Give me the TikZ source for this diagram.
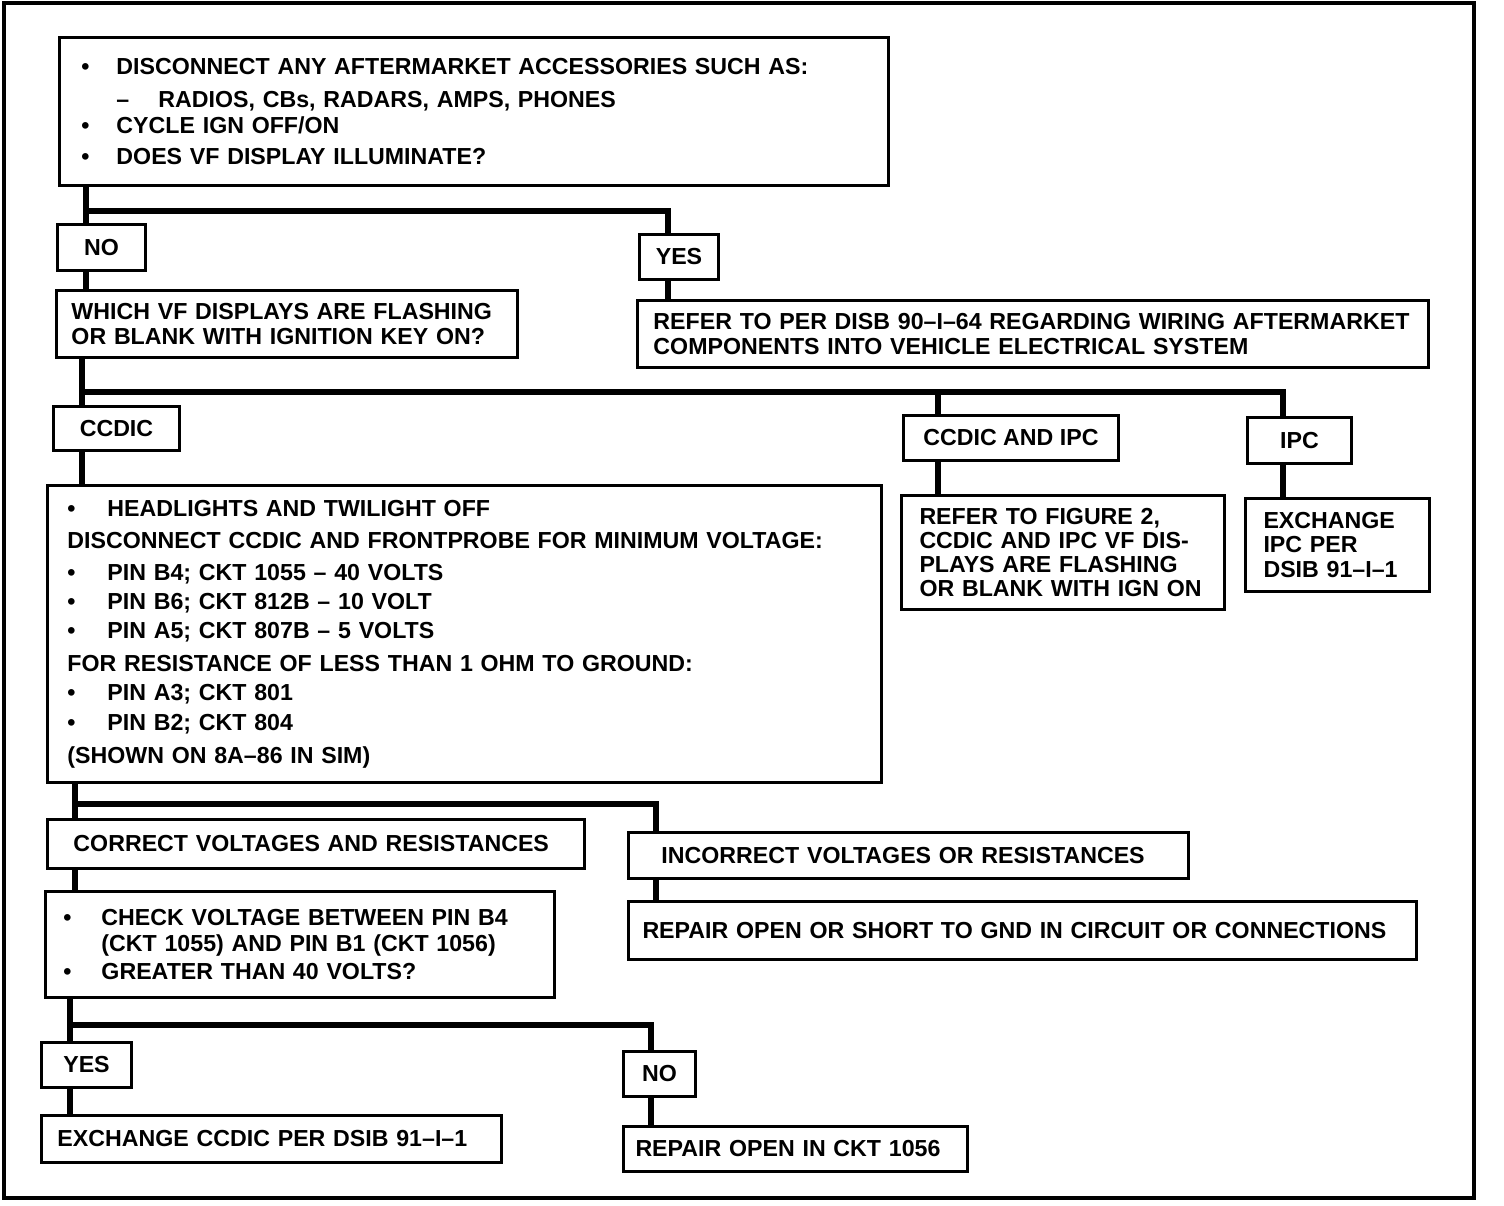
\documentclass[tikz,border=0pt]{standalone}
\usepackage{fontspec}
\setmainfont{Liberation Sans}
\usetikzlibrary{positioning}
\newcommand{\itm}[1][0.7cm]{\makebox[#1][l]{\textbullet}}

\begin{document}
\begin{tikzpicture}[x=0.02cm, y=-0.02cm,
  every node/.style={font=\fontsize{13.2}{13.7}\selectfont\bfseries},
  box/.style={draw, line width=1.7pt, anchor=north west, align=left, inner xsep=0.32cm, inner ysep=0pt},
  tag/.style={draw, line width=1.7pt, anchor=north west, inner sep=0pt},
  link/.style={line width=3pt}]
  \useasboundingbox (0,0) rectangle (1504,1206);
  \draw[line width=2.3pt] (4,3) rectangle (1474,1198);

  % first question
  \node[box, inner xsep=0.44cm, text width=15.7cm, minimum height=2.96cm] (top) at (58,36)
    {\itm DISCONNECT ANY AFTERMARKET ACCESSORIES SUCH AS:\\[5pt]
     \hspace*{0.7cm}\makebox[0.84cm][l]{--}RADIOS, CBs, RADARS, AMPS, PHONES\\[1pt]
     \itm CYCLE IGN OFF/ON\\[4pt]
     \itm DOES VF DISPLAY ILLUMINATE?};
  \node[tag, minimum width=1.76cm, minimum height=0.92cm] (no1) at (56,223) {NO};
  \node[tag, minimum width=1.58cm, minimum height=0.9cm] (yes1) at (638,233) {YES};
  \node[box, inner xsep=0.3cm, text width=8.62cm, minimum height=1.34cm] (which) at (55,289)
    {WHICH VF DISPLAYS ARE FLASHING\\OR BLANK WITH IGNITION KEY ON?};
  \node[box, text width=15.18cm, minimum height=1.34cm] (refer) at (636,299)
    {REFER TO PER DISB 90--I--64 REGARDING WIRING AFTERMARKET\\COMPONENTS INTO VEHICLE ELECTRICAL SYSTEM};

  % which display
  \node[tag, minimum width=2.52cm, minimum height=0.88cm] (ccdic) at (52,405) {CCDIC};
  \node[tag, minimum width=4.3cm, minimum height=0.9cm] (both) at (902,414) {CCDIC AND IPC};
  \node[tag, minimum width=2.08cm, minimum height=0.92cm] (ipc) at (1246,416) {IPC};
  \node[box, inner xsep=0.4cm, text width=15.88cm, minimum height=5.94cm] (probe) at (46,484)
    {\itm[0.8cm]HEADLIGHTS AND TWILIGHT OFF\\[5pt]
     DISCONNECT CCDIC AND FRONTPROBE FOR MINIMUM VOLTAGE:\\[4pt]
     \itm[0.8cm]PIN B4; CKT 1055 -- 40 VOLTS\\[3pt]
     \itm[0.8cm]PIN B6; CKT 812B -- 10 VOLT\\[3pt]
     \itm[0.8cm]PIN A5; CKT 807B -- 5 VOLTS\\[5pt]
     FOR RESISTANCE OF LESS THAN 1 OHM TO GROUND:\\[3pt]
     \itm[0.8cm]PIN A3; CKT 801\\[3pt]
     \itm[0.8cm]PIN B2; CKT 804\\[5pt]
     (SHOWN ON 8A--86 IN SIM)};
  \node[box, inner xsep=0.36cm, text width=5.74cm, minimum height=2.28cm] (fig2) at (900,494)
    {REFER TO FIGURE 2,\\CCDIC AND IPC VF DIS-\\PLAYS ARE FLASHING\\OR BLANK WITH IGN ON};
  \node[box, inner xsep=0.36cm, text width=2.96cm, minimum height=1.86cm] (exipc) at (1244,497)
    {EXCHANGE\\IPC PER\\DSIB 91--I--1};

  % probe results
  \node[box, inner xsep=0.52cm, text width=9.7cm, minimum height=0.98cm] (correct) at (46,818)
    {CORRECT VOLTAGES AND RESISTANCES};
  \node[box, inner xsep=0.66cm, text width=9.88cm, minimum height=0.92cm] (incorrect) at (627,831)
    {INCORRECT VOLTAGES OR RESISTANCES};
  \node[box, inner xsep=0.36cm, text width=9.46cm, minimum height=2.12cm] (volt) at (44,890)
    {\itm[0.76cm]CHECK VOLTAGE BETWEEN PIN B4\\[1pt]
     \hspace*{0.76cm}(CKT 1055) AND PIN B1 (CKT 1056)\\[2.5pt]
     \itm[0.76cm]GREATER THAN 40 VOLTS?};
  \node[box, inner xsep=0.28cm, text width=15.2cm, minimum height=1.16cm] (short) at (627,900)
    {REPAIR OPEN OR SHORT TO GND IN CIRCUIT OR CONNECTIONS};

  % last question
  \node[tag, minimum width=1.8cm, minimum height=0.9cm] (yes2) at (40,1041) {YES};
  \node[tag, minimum width=1.44cm, minimum height=0.9cm] (no2) at (622,1050) {NO};
  \node[box, text width=8.56cm, minimum height=0.94cm] (exccdic) at (40,1114)
    {EXCHANGE CCDIC PER DSIB 91--I--1};
  \node[box, inner xsep=0.24cm, text width=6.4cm, minimum height=0.9cm] (open) at (622,1125)
    {REPAIR OPEN IN CKT 1056};

  % connectors
  \coordinate (b1) at (86,211);
  \coordinate (b2) at (668,211);
  \draw[link] (top.south -| b1) -- (no1.north -| b1);
  \draw[link] (b1) -- (b2) -- (yes1.north -| b2);
  \draw[link] (no1.south -| b1) -- (which.north -| b1);
  \draw[link] (yes1.south -| b2) -- (refer.north -| b2);

  \coordinate (c1) at (82,392);
  \coordinate (c2) at (938,392);
  \coordinate (c3) at (1283,392);
  \draw[link] (which.south -| c1) -- (ccdic.north -| c1);
  \draw[link] (c1) -- (c3) -- (ipc.north -| c3);
  \draw[link] (c2) -- (both.north -| c2);
  \draw[link] (ccdic.south -| c1) -- (probe.north -| c1);
  \draw[link] (both.south -| c2) -- (fig2.north -| c2);
  \draw[link] (ipc.south -| c3) -- (exipc.north -| c3);

  \coordinate (d1) at (75,804);
  \coordinate (d2) at (656,804);
  \draw[link] (probe.south -| d1) -- (correct.north -| d1);
  \draw[link] (d1) -- (d2) -- (incorrect.north -| d2);
  \draw[link] (correct.south -| d1) -- (volt.north -| d1);
  \draw[link] (incorrect.south -| d2) -- (short.north -| d2);

  \coordinate (e1) at (70,1025);
  \coordinate (e2) at (651,1025);
  \draw[link] (volt.south -| e1) -- (yes2.north -| e1);
  \draw[link] (e1) -- (e2) -- (no2.north -| e2);
  \draw[link] (yes2.south -| e1) -- (exccdic.north -| e1);
  \draw[link] (no2.south -| e2) -- (open.north -| e2);
\end{tikzpicture}
\end{document}
